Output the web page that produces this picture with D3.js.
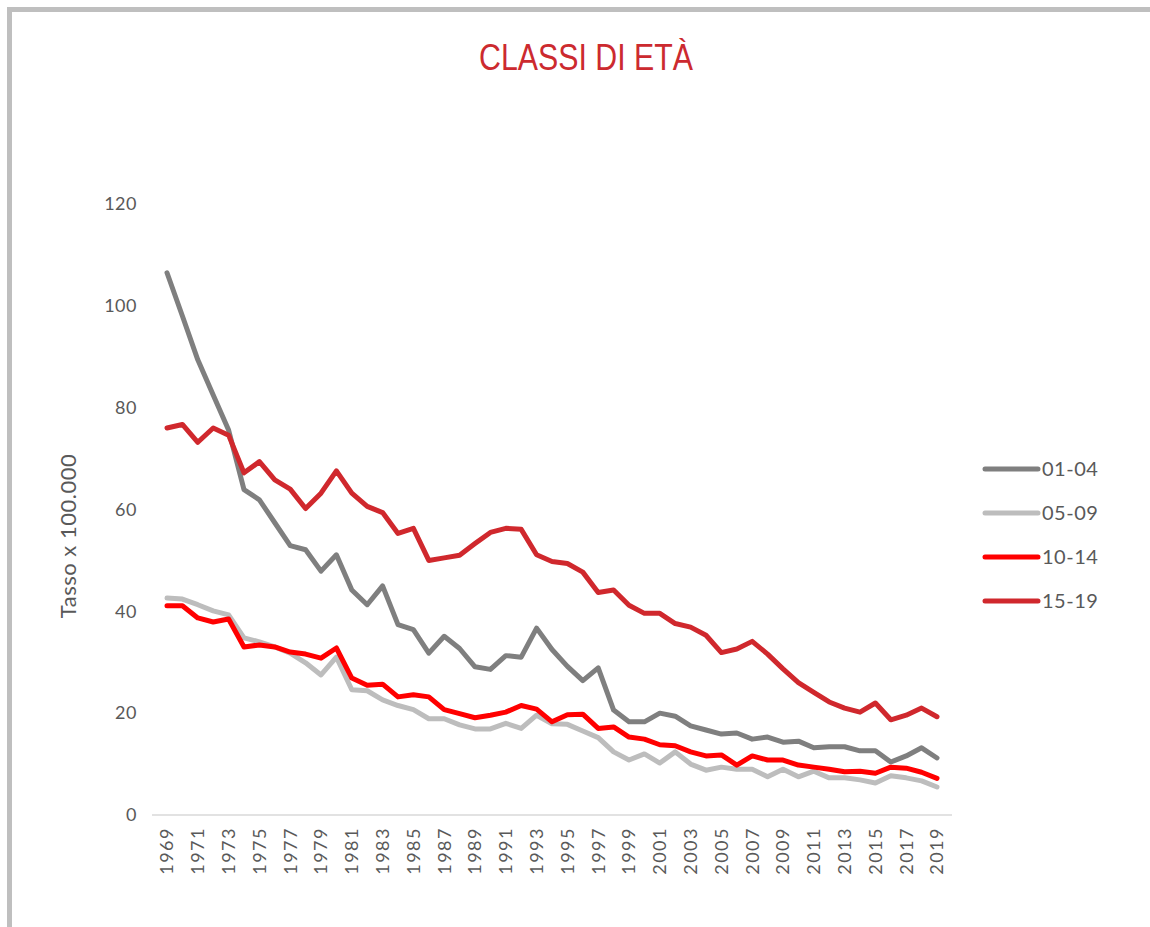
<!DOCTYPE html>
<html>
<head>
<meta charset="utf-8">
<script src="https://cdn.jsdelivr.net/npm/d3@7"></script>
<style>
  body { margin: 0; background: #fff; }
  svg { display: block; }
  text { font-family: Lato, "Open Sans", sans-serif; fill: #595959; }
</style>
</head>
<body>
<script>
		var years = d3.range(1969, 2020);
		var seriesNames = ["01-04", "05-09", "10-14", "15-19"];
		var seriesColors = ["#7f7f7f", "#bdbdbd", "#ff0000", "#d0282d"];
		var yTicks = [0, 20, 40, 60, 80, 100, 120];

		// values, one per year 1969..2019
		var v0104 = [106.5, 98.0, 89.4, 82.5, 75.6, 63.9, 61.9, 57.4, 52.9, 52.1,
			47.9, 51.1, 44.2, 41.3, 45.0, 37.4, 36.4, 31.8, 35.1, 32.7,
			29.1, 28.6, 31.3, 31.0, 36.7, 32.5, 29.2, 26.4, 28.9, 20.6,
			18.3, 18.3, 20.0, 19.4, 17.5, 16.7, 15.9, 16.1, 14.9, 15.3,
			14.3, 14.5, 13.2, 13.4, 13.4, 12.6, 12.6, 10.4, 11.6, 13.2, 11.2];
		var v0509 = [42.6, 42.4, 41.3, 40.1, 39.3, 34.8, 34.0, 33.0, 31.8, 29.9,
			27.5, 31.0, 24.6, 24.4, 22.6, 21.5, 20.7, 18.9, 18.9, 17.7,
			16.9, 16.9, 18.0, 17.0, 19.6, 17.9, 17.8, 16.5, 15.2, 12.4,
			10.8, 12.0, 10.2, 12.4, 10.0, 8.8, 9.4, 9.0, 9.0, 7.5,
			9.0, 7.5, 8.6, 7.3, 7.3, 6.9, 6.3, 7.7, 7.3, 6.7, 5.5];
		var v1014 = [41.1, 41.1, 38.7, 37.9, 38.5, 33.0, 33.4, 33.0, 32.0, 31.6,
			30.8, 32.8, 26.9, 25.5, 25.7, 23.2, 23.6, 23.2, 20.7, 19.9,
			19.1, 19.6, 20.2, 21.5, 20.8, 18.3, 19.7, 19.8, 17.0, 17.3,
			15.3, 14.9, 13.8, 13.6, 12.4, 11.6, 11.8, 9.8, 11.6, 10.8,
			10.8, 9.8, 9.4, 9.0, 8.5, 8.6, 8.2, 9.4, 9.2, 8.4, 7.2];
		var v1519 = [76.0, 76.7, 73.2, 76.0, 74.6, 67.2, 69.4, 65.8, 64.0, 60.2,
			63.2, 67.6, 63.2, 60.6, 59.4, 55.3, 56.3, 50.0, 50.5, 51.0,
			53.3, 55.5, 56.3, 56.1, 51.1, 49.8, 49.4, 47.7, 43.7, 44.2,
			41.2, 39.6, 39.6, 37.6, 36.9, 35.3, 31.9, 32.6, 34.1, 31.6,
			28.7, 26.0, 24.1, 22.2, 21.0, 20.2, 22.0, 18.7, 19.6, 21.0, 19.3];
		var allSeries = [v0104, v0509, v1014, v1519];

		var width = 1150,
			height = 927;

		var svg = d3.select("body").append("svg")
			.attr("width", width)
			.attr("height", height);

		// grey frame around the chart area
		svg.append("rect")
			.attr("x", 9.5)
			.attr("y", 9.5)
			.attr("width", width + 20)
			.attr("height", height + 20)
			.style("fill", "none")
			.style("stroke", "#bfbfbf")
			.style("stroke-width", 5);

		svg.append("text")
			.text("CLASSI DI ETÀ")
			.attr("x", 586)
			.attr("y", 70)
			.attr("textLength", 214)
			.attr("lengthAdjust", "spacingAndGlyphs")
			.style("font-family", "'Liberation Sans Narrow', 'Liberation Sans', sans-serif")
			.style("font-size", "36px")
			.style("fill", "#cc2a2f")
			.style("text-anchor", "middle");

		var x = d3.scaleLinear().domain([1969, 2019]).range([167, 937]);
		var y = d3.scaleLinear().domain([0, 120]).range([815, 204]);

		// y axis labels
		svg.selectAll("text.ytick")
			.data(yTicks)
			.enter()
			.append("text")
			.attr("class", "ytick")
			.text(function (d) { return d; })
			.attr("x", 137)
			.attr("y", function (d) { return y(d); })
			.attr("dy", "0.35em")
			.style("font-size", "18px")
			.style("letter-spacing", "0.5px")
			.style("text-anchor", "end");

		svg.append("text")
			.text("Tasso x 100.000")
			.attr("transform", "translate(76, 536) rotate(-90)")
			.style("font-size", "22px")
			.style("letter-spacing", "0.5px")
			.style("text-anchor", "middle");

		// baseline
		svg.append("line")
			.attr("x1", 152)
			.attr("x2", 952)
			.attr("y1", y(0))
			.attr("y2", y(0))
			.style("stroke", "#d9d9d9")
			.style("stroke-width", 1.5);

		svg.selectAll("text.xtick")
			.data(years.filter(function (d) { return (d - 1969) % 2 === 0; }))
			.enter()
			.append("text")
			.attr("class", "xtick")
			.text(function (d) { return d; })
			.attr("transform", function (d) { return "translate(" + x(d) + ", 827) rotate(-90)"; })
			.attr("dy", "0.35em")
			.style("font-size", "18px")
			.style("letter-spacing", "1.5px")
			.style("text-anchor", "end");

		var line = d3.line()
			.x(function (d, i) { return x(years[i]); })
			.y(function (d) { return y(d); });

		svg.selectAll("path.series")
			.data(allSeries)
			.enter()
			.append("path")
			.attr("class", "series")
			.attr("d", line)
			.style("fill", "none")
			.style("stroke", function (d, i) { return seriesColors[i]; })
			.style("stroke-width", 5)
			.style("stroke-linejoin", "round")
			.style("stroke-linecap", "round");

		var legend = svg.selectAll("g.legend")
			.data(seriesNames)
			.enter()
			.append("g")
			.attr("class", "legend")
			.attr("transform", function (d, i) { return "translate(985, " + (469 + i * 44) + ")"; });

		legend.append("line")
			.attr("x1", 0)
			.attr("x2", 53)
			.style("stroke", function (d, i) { return seriesColors[i]; })
			.style("stroke-width", 5)
			.style("stroke-linecap", "round");

		legend.append("text")
			.text(function (d) { return d; })
			.attr("x", 57)
			.attr("dy", "0.35em")
			.style("font-size", "20px")
			.style("letter-spacing", "0.5px");
</script>
</body>
</html>
